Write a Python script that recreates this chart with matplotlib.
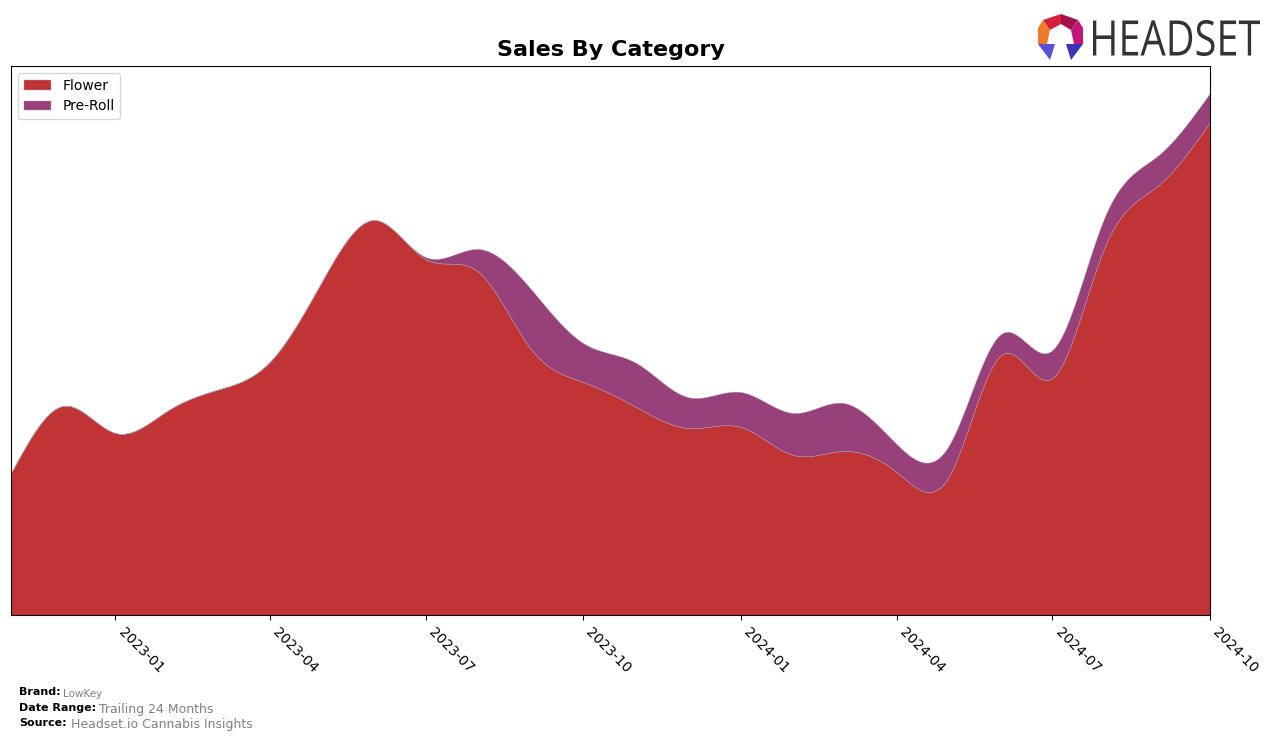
import numpy as np
import pandas as pd
import matplotlib
matplotlib.use("Agg")
import matplotlib.pyplot as plt
import matplotlib.dates as mdates
from matplotlib.patches import Polygon, PathPatch
from matplotlib.textpath import TextPath
from matplotlib.font_manager import FontProperties
from matplotlib.transforms import Affine2D

# monthly sales (relative units)
months = pd.date_range("2022-11-01", "2024-10-01", freq="MS")
flower = [142, 209, 182, 205, 225, 253, 332, 395, 356, 343, 265, 233,
          208, 187, 188, 160, 164, 143, 137, 260, 237, 370, 430, 493]
pre_roll = [0, 0, 0, 0, 0, 0, 0, 0, 2, 23, 60, 39,
            44, 31, 35, 42, 48, 28, 31, 21, 28, 30, 30, 29]
categories = ["Flower", "Pre-Roll"]
colors = ["#c13435", "#974079"]

brand = "LowKey"
date_range = "Trailing 24 Months"
source = "Headset.io Cannabis Insights"


def natural_spline(x, y, xs):
    x = np.asarray(x, dtype=float)
    y = np.asarray(y, dtype=float)
    n = len(x)
    h = np.diff(x)
    A = np.zeros((n, n))
    rhs = np.zeros(n)
    A[0, 0] = A[-1, -1] = 1.0
    for i in range(1, n - 1):
        A[i, i - 1] = h[i - 1]
        A[i, i] = 2 * (h[i - 1] + h[i])
        A[i, i + 1] = h[i]
        rhs[i] = 6 * ((y[i + 1] - y[i]) / h[i] - (y[i] - y[i - 1]) / h[i - 1])
    M = np.linalg.solve(A, rhs)
    idx = np.clip(np.searchsorted(x, xs) - 1, 0, n - 2)
    x0, x1 = x[idx], x[idx + 1]
    hh = x1 - x0
    a = (x1 - xs) / hh
    b = (xs - x0) / hh
    return (a * y[idx] + b * y[idx + 1]
            + ((a ** 3 - a) * M[idx] + (b ** 3 - b) * M[idx + 1]) * hh ** 2 / 6)


xnum = mdates.date2num(months)
xs = np.linspace(xnum[0], xnum[-1], 800)
flower_s = np.clip(natural_spline(xnum, flower, xs), 0, None)
pre_s = np.clip(natural_spline(xnum, pre_roll, xs), 0, None)

fig = plt.figure(figsize=(12.76, 7.4), dpi=100)
ax = fig.add_axes([11 / 1276, 1 - 615 / 740, 1199 / 1276, 549 / 740])

ax.stackplot(xs, flower_s, pre_s, colors=colors, labels=categories, linewidth=0.3,
             edgecolor="#b0a0b0")

ax.set_xlim(xnum[0], xnum[-1])
ax.set_ylim(0, 549)
ax.set_yticks([])
tick_dates = pd.date_range("2023-01-01", "2024-10-01", freq="3MS")
ax.set_xticks(mdates.date2num(tick_dates))
ax.set_xticklabels([d.strftime("%Y-%m") for d in tick_dates], rotation=-45,
                   ha="left", fontsize=10)

ax.set_title("Sales By Category", fontsize=16, fontweight="bold", pad=7)
ax.legend(loc="upper left", fontsize=10, handlelength=2, borderaxespad=0.5)

# footer
t1 = fig.text(19 / 1276, 1 - 695 / 740, "Brand:", fontsize=8, fontweight="bold")
ax.annotate(brand, xy=(1, 0), xycoords=t1, xytext=(2, 0), textcoords="offset points",
            fontsize=7.5, color="gray", annotation_clip=False)
t2 = fig.text(19 / 1276, 1 - 711 / 740, "Date Range:", fontsize=8, fontweight="bold")
ax.annotate(date_range, xy=(1, 0), xycoords=t2, xytext=(2, 0), textcoords="offset points",
            fontsize=9, color="gray", annotation_clip=False)
t3 = fig.text(19 / 1276, 1 - 726 / 740, "Source:", fontsize=8, fontweight="bold")
ax.annotate(source, xy=(1, 0), xycoords=t3, xytext=(3, 0), textcoords="offset points",
            fontsize=9, color="gray", annotation_clip=False)

# logo, drawn in a small axes whose data units are figure pixels (y down)
lax = fig.add_axes([1030 / 1276, 1 - 65 / 740, 240 / 1276, 55 / 740])
lax.set_xlim(1030, 1270)
lax.set_ylim(65, 10)
lax.axis("off")

tp = TextPath((0, 0), "HEADSET", size=40, prop=FontProperties(family="Open Sans"))
bb = tp.get_extents()
sx = (1260 - 1093) / bb.width
sy = (56 - 20) / bb.height
tr = (Affine2D().translate(-bb.x0, -bb.y0).scale(sx, -sy).translate(1093, 56))
lax.add_patch(PathPatch(tr.transform_path(tp), color="#333333", lw=0))

pieces = [
    ([(1038, 28), (1043, 20), (1050, 30), (1047, 44), (1038, 44)], "#f07a2a"),
    ([(1043, 20), (1061, 14), (1061, 24), (1050, 30)], "#d61f3c"),
    ([(1061, 14), (1078, 20), (1071, 30), (1061, 24)], "#a3104a"),
    ([(1078, 20), (1083, 28), (1083, 44), (1074, 44), (1071, 30)], "#c2157a"),
    ([(1038, 44), (1055, 44), (1050, 60)], "#5b4fd6"),
    ([(1066, 44), (1083, 44), (1071, 60)], "#3a35b0"),
]
for pts, c in pieces:
    lax.add_patch(Polygon(pts, closed=True, color=c, lw=0))

fig.savefig("out.png", dpi=100)
